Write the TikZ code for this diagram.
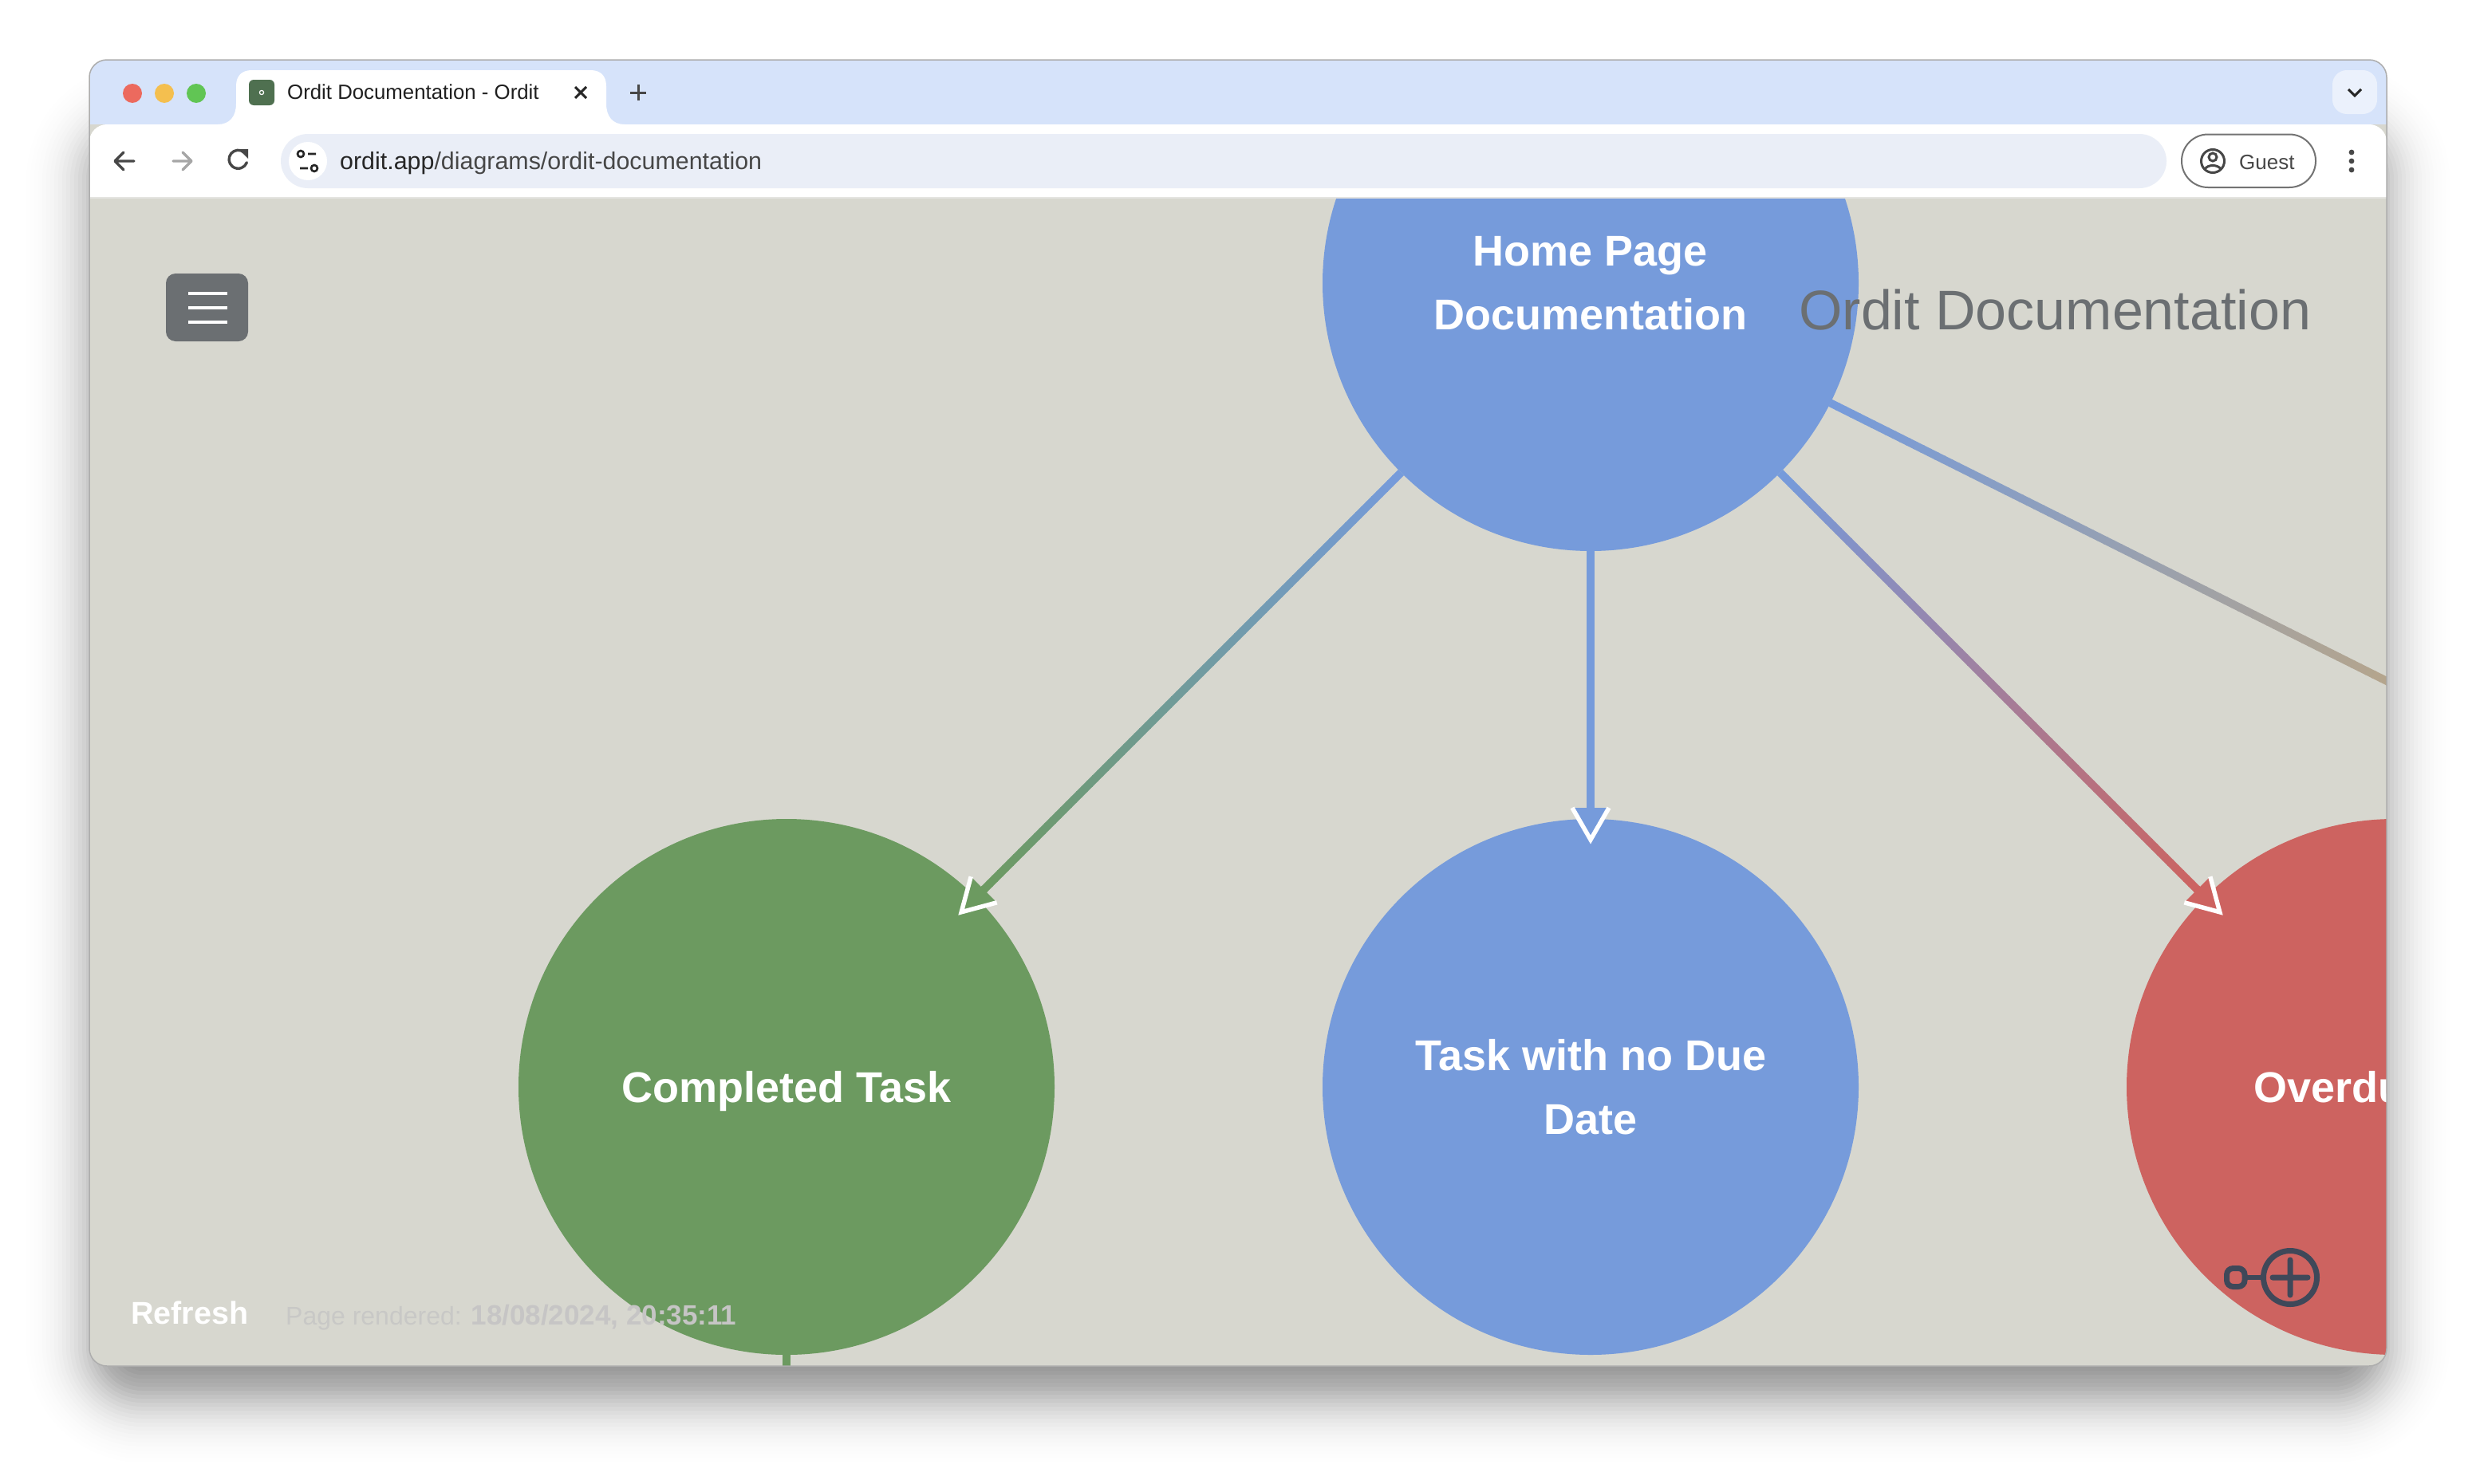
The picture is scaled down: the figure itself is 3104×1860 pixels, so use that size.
\documentclass[tikz,border=0pt]{standalone}
\usepackage{fontspec}
\setmainfont{Liberation Sans}
\usetikzlibrary{calc}
\definecolor{barblue}{HTML}{D6E3FA}
\definecolor{pagegray}{HTML}{D7D7CF}
\definecolor{omni}{HTML}{EAEEF7}
\definecolor{nodeblue}{HTML}{769BDB}
\definecolor{nodegreen}{HTML}{6C9A60}
\definecolor{nodered}{HTML}{CD6360}
\definecolor{slategray}{HTML}{6B6F72}
\definecolor{edgetan}{HTML}{B5A58C}
\definecolor{iconink}{HTML}{3F4859}
\definecolor{chromeink}{HTML}{474747}
\definecolor{faintink}{HTML}{C8C8C6}
\definecolor{faintbold}{HTML}{C6C5C5}
\definecolor{lightred}{HTML}{EC6A5E}
\definecolor{lightyellow}{HTML}{F4BF4F}
\definecolor{lightgreen}{HTML}{61C554}
\definecolor{favgreen}{HTML}{4F7050}
\tikzset{
  x=1pt,y=-1pt,
  task/.style={circle,minimum size=672pt,inner sep=0pt,text=white,align=center,font=\fontsize{54}{80}\selectfont\bfseries},
  light/.style={circle,minimum size=24pt,inner sep=0pt},
  chrome/.style={draw=chromeink,line width=3pt,line cap=round,line join=round},
  chromeline/.style={chrome,line width=3.4pt},
  topicon/.style={draw=iconink,line width=7pt,line cap=round},
}
% \gradedge{from}{to}{start colour}{end colour}{start fraction}{end fraction}
\newcommand{\gradedge}[6]{%
  \foreach \i in {0,...,79}{%
    \pgfmathsetmacro{\mixv}{100*\i/79}%
    \pgfmathsetmacro{\fa}{#5+(#6-#5)*\i/80}%
    \pgfmathsetmacro{\fb}{#5+(#6-#5)*(\i+1.15)/80}%
    \draw[#4!\mixv!#3,line width=10pt] ($(#1)!\fa!(#2)$) -- ($(#1)!\fb!(#2)$);
  }}
% \headtip{from}{to}{colour}: open-backed arrow head in front of the target's centre
\newcommand{\headtip}[3]{%
  \coordinate (tip) at ($(#2)!310pt!(#1)$);
  \coordinate (baseC) at ($(#2)!350pt!(#1)$);
  \coordinate (armA) at ($(baseC)!23pt!90:(tip)$);
  \coordinate (armB) at ($(baseC)!23pt!-90:(tip)$);
  \fill[#3] (armA) -- (tip) -- (armB) -- cycle;
  \draw[white,line width=5.5pt,miter limit=20] (armA) -- (tip) -- (armB);
}
\begin{document}
\begin{tikzpicture}
\useasboundingbox (0,0) rectangle (3104,1860);
\fill[white] (0,0) rectangle (3104,1860);
% window shadow
\foreach \e in {-90,-85,...,100}{
  \pgfmathsetmacro{\op}{0.03*exp(-0.5*(\e/42)^2)}
  \pgfmathsetmacro{\rr}{max(6,50+\e)}
  \fill[black,opacity=\op,rounded corners=\rr pt] (128-\e,175-\e) rectangle (2976+\e,1739+\e);
}
% window
\begin{scope}
\clip[rounded corners=22pt] (112,75) rectangle (2992,1713);
\fill[pagegray] (112,75) rectangle (2992,1713);
\fill[barblue] (112,75) rectangle (2992,156);
\fill[white,rounded corners=22pt] (112,156) rectangle (2992,300);
\fill[white] (112,200) rectangle (2992,247);
\fill[pagegray] (112,248) rectangle (2992,1713);
\fill[black!6!pagegray!50!white] (112,246.5) rectangle (2992,249);
% content
\begin{scope}
\clip (112,249) rectangle (2992,1713);
\node[task,fill=nodeblue] (home) at (1994,355) {Home Page\\Documentation};
\node[task,fill=nodegreen] (done) at (986,1363) {\raisebox{0pt}[\height][0pt]{Completed Task}};
\node[task,fill=nodeblue] (nodue) at (1994,1363) {Task with no Due\\Date};
\node[task,fill=nodered] (overdue) at (3002,1363) {Overdue Task};
\coordinate (farright) at (4010,1363);
\coordinate (below) at (986,1800);
\draw[nodegreen,line width=10pt] (done.south) -- (below);
\draw[nodeblue,line width=10pt] (home.south) -- (nodue.north);
\gradedge{home}{done}{nodeblue}{nodegreen}{0.2357}{0.76}
\gradedge{home}{overdue}{nodeblue}{nodered}{0.2357}{0.76}
\gradedge{home}{farright}{nodeblue}{edgetan}{0.149}{0.5}
\headtip{home}{done}{nodegreen}
\headtip{home}{nodue}{nodeblue}
\headtip{home}{overdue}{nodered}
\node[anchor=base west,inner sep=0pt,font=\fontsize{70}{80}\selectfont,text=slategray] (title) at (2255,413) {Ordit Documentation};
\end{scope}
% tab
\fill[white] (273,156) .. controls (288,156) and (296,146) .. (296,130) -- (296,108) .. controls (296,95) and (303,88) .. (316,88) -- (740,88) .. controls (753,88) and (760,95) .. (760,108) -- (760,130) .. controls (760,146) and (768,156) .. (783,156) -- cycle;
\end{scope}
\draw[black!32,line width=1.5pt,rounded corners=22pt] (112,75) rectangle (2992,1713);
% traffic lights
\node[light,fill=lightred] (dotred) at (166,117) {};
\node[light,fill=lightyellow] (dotyellow) at (206,117) {};
\node[light,fill=lightgreen] (dotgreen) at (246,117) {};
% favicon
\fill[fill=favgreen,rounded corners=6pt] (312,100) rectangle (344,132);
\draw[white,line width=1.2pt] (328,116) circle (2.6);
\node[anchor=base west,inner sep=0pt,font=\fontsize{25.8}{30}\selectfont,text=black!88] (tabtitle) at (360,124) {Ordit Documentation - Ordit};
\draw[black!85,line width=3pt] (721,109) -- (735,123) (735,109) -- (721,123);
\draw[chromeink,line width=3pt] (790,116) -- (810,116) (800,106) -- (800,126);
% chevron
\fill[white!50!barblue,rounded corners=18pt] (2924,88) rectangle (2980,143);
\draw[black!85,line width=3pt] (2944,112) -- (2952,120) -- (2960,112);
% toolbar
\draw[chromeline] (168,202) -- (145,202) (155,191) -- (144,202) -- (155,213);
\draw[chromeline,draw=black!35] (217,202) -- (240,202) (229,191) -- (240,202) -- (229,213);
\draw[chromeline] (306,191) arc (-50:-340:11.5);
\fill[chromeink] (299,187) -- (311,187) -- (311,199) -- cycle;
\fill[omni,rounded corners=34pt] (352,168) rectangle (2716,236);
\fill[white] (386,202) circle (24);
\draw[black!85,line width=2.6pt] (377,193) circle (4) (386,193) -- (396,193) (376,211) -- (386,211) (394,211) circle (4);
\node[anchor=base west,inner sep=0pt,font=\fontsize{30.4}{34}\selectfont,text=black!85] (url) at (426,212) {ordit.app\textcolor{chromeink}{/diagrams/ordit-documentation}};
\draw[black!55,line width=2pt,rounded corners=33pt] (2735,168.5) rectangle (2903,235);
\draw[chromeink,line width=3pt] (2774,202) circle (14.5) (2774,197) circle (5);
\draw[chromeink,line width=3pt] (2764,212) .. controls (2768,206) and (2780,206) .. (2784,212);
\node[anchor=base west,inner sep=0pt,font=\fontsize{26}{30}\selectfont,text=chromeink] (guest) at (2807,212) {Guest};
\fill[chromeink] (2948,191) circle (3.4) (2948,202) circle (3.4) (2948,213) circle (3.4);
% hamburger
\fill[slategray,rounded corners=12pt] (208,343) rectangle (311,428);
\draw[white,line width=4.3pt] (236,368) -- (285,368) (236,386) -- (285,386) (236,404) -- (285,404);
% footer
\node[anchor=base west,inner sep=0pt,font=\fontsize{39.5}{44}\selectfont\bfseries,text=white] (refresh) at (164,1660) {Refresh};
\node[anchor=base west,inner sep=0pt,font=\fontsize{32}{44}\selectfont,text=faintink] (rendered) at (358,1661) {Page rendered: {\fontsize{35}{44}\selectfont\bfseries\color{faintbold}18/08/2024, 20:35:11}};
% add-node icon
\draw[topicon] (2871,1602) circle (33.5) (2849,1602) -- (2893,1602) (2871,1580) -- (2871,1624);
\draw[topicon,line width=6pt] (2816,1602) -- (2836,1602);
\draw[topicon,rounded corners=8pt] (2791.5,1590.5) rectangle (2814,1613.5);
\end{tikzpicture}
\end{document}
